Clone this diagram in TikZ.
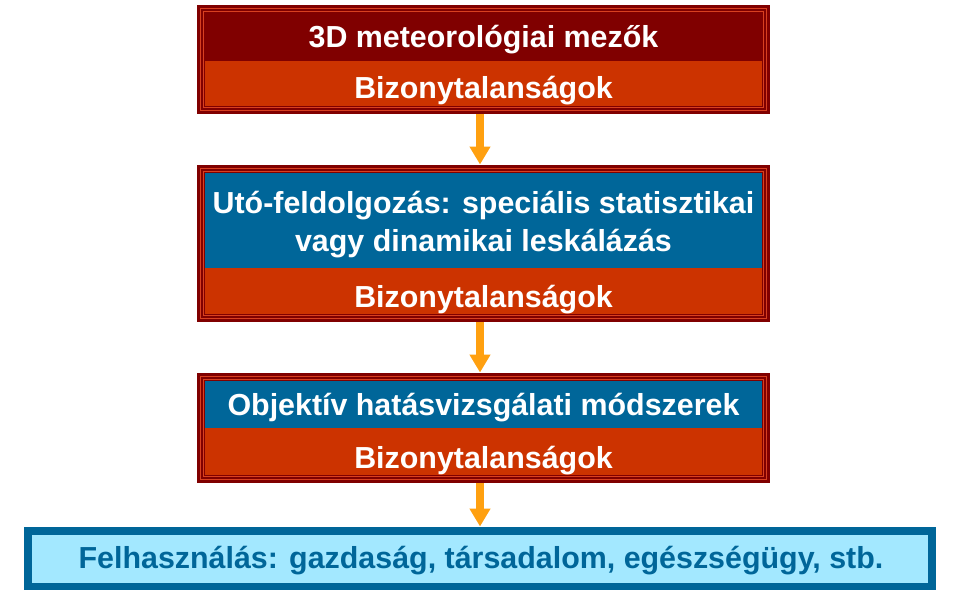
\documentclass[tikz,border=0pt]{standalone}
\usepackage{fontspec}
\setmainfont{Liberation Sans}
\usetikzlibrary{arrows.meta}
\definecolor{dred}{HTML}{800000}
\definecolor{ored}{HTML}{CC3300}
\definecolor{oline}{HTML}{D84020}
\definecolor{pblue}{HTML}{006699}
\definecolor{lblue}{HTML}{A3E8FF}
\definecolor{arrowc}{HTML}{FFA010}
\tikzset{
  txt/.style={text=white,font=\fontsize{30.4}{38}\selectfont\bfseries,anchor=base,inner sep=0pt,align=center},
  btxt/.style={text=pblue,font=\fontsize{30.4}{38}\selectfont\bfseries,anchor=base,inner sep=0pt},
  flow/.style={draw=arrowc,line width=8pt,-{Triangle[width=20pt,length=18pt]},shorten >=0.5pt},
  fline/.style={draw=oline,line width=0.9pt}
}
\newcommand{\redbox}[5]{% name, y1, y2, ysplit, header colour
  \fill[dred] (197,#2) rectangle (770,#3);
  \draw[fline] (200.5,#2+3.5) rectangle (766.5,#3-3.5);
  \draw[fline] (203.5,#2+6.5) rectangle (763.5,#3-6.5);
  \fill[#5] (205,#2+8) rectangle (762,#4);
  \fill[ored] (205,#4) rectangle (762,#3-8);
  \coordinate (#1top) at (483.5,#2);
  \coordinate (#1bot) at (483.5,#3);
}
\begin{document}
\begin{tikzpicture}[x=1pt,y=-1pt]
\useasboundingbox (0,0) rectangle (960,600);
\fill[white] (0,0) rectangle (960,600);

\redbox{a}{5}{114}{61}{dred}
\node[txt] (a1) at (483.5,47) {3D meteorológiai mezők};
\node[txt] (a2) at (483.5,98) {Bizonytalanságok};

\redbox{b}{165}{322}{268}{pblue}
\node[txt] (b1) at (483.5,251) {Utó-feldolgozás: speciális statisztikai\\vagy dinamikai leskálázás};
\node[txt] (b2) at (483.5,307) {Bizonytalanságok};

\redbox{c}{373}{483}{428}{pblue}
\node[txt] (c1) at (483.5,415) {Objektív hatásvizsgálati módszerek};
\node[txt] (c2) at (483.5,468) {Bizonytalanságok};

\fill[pblue] (24,527) rectangle (936,590);
\fill[lblue] (32,535) rectangle (928,583);
\coordinate (dtop) at (480,527);
\node[btxt] (d1) at (481,568) {Felhasználás: gazdaság, társadalom, egészségügy, stb.};

\coordinate (s1) at (480,114);
\coordinate (e1) at (480,165);
\coordinate (s2) at (480,322);
\coordinate (e2) at (480,373);
\coordinate (s3) at (480,483);
\draw[flow] (s1) -- (e1);
\draw[flow] (s2) -- (e2);
\draw[flow] (s3) -- (dtop);
\end{tikzpicture}
\end{document}
